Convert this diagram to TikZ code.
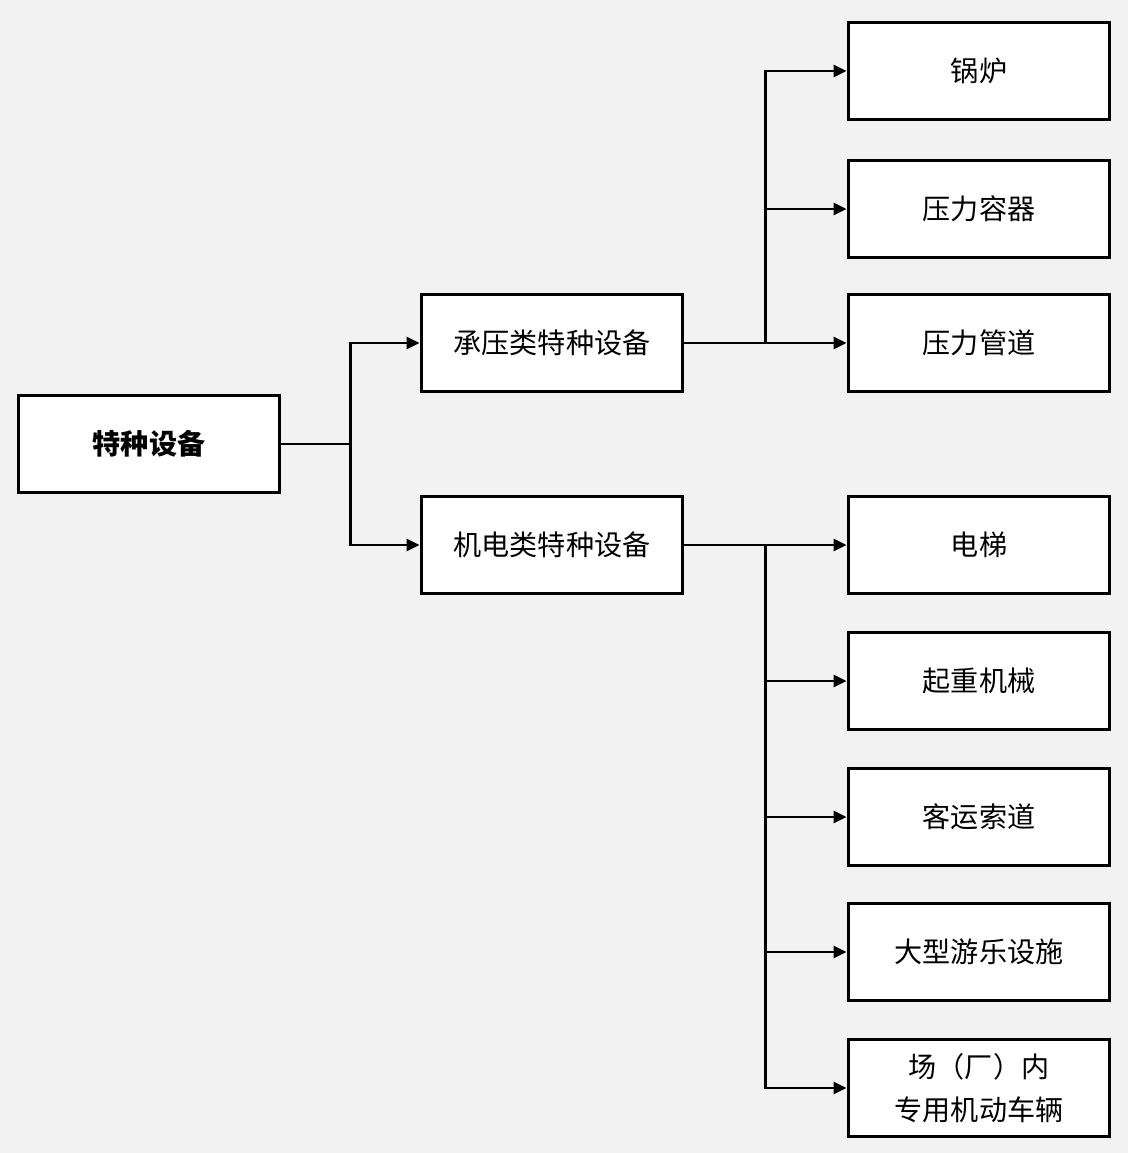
\documentclass[tikz,border=0pt]{standalone}
\usepackage{fontspec}
\setmainfont{Noto Sans CJK SC}
\usetikzlibrary{arrows.meta}

\tikzset{
  box/.style={draw=black,fill=white,line width=0.06cm,minimum width=5.24cm,
    minimum height=1.94cm,inner sep=0pt,align=center,font=\fontsize{16pt}{24.5pt}\selectfont},
  link/.style={line width=0.05cm,-{Triangle[length=0.26cm,width=0.24cm]}}
}

\begin{document}
\begin{tikzpicture}[x=0.02cm,y=-0.02cm]
          \fill[fill={rgb,255:red,242;green,242;blue,242}] (0,0) rectangle (1128,1153);
          \useasboundingbox (0,0) rectangle (1128,1153);
          % left and middle column
          \node[box,font=\fontsize{16pt}{24.5pt}\selectfont\bfseries] (root) at (149,444) {特种设备};
          \node[box] (cy) at (552,343) {承压类特种设备};
          \node[box] (jd) at (552,545) {机电类特种设备};
          % right column
          \node[box] (gl) at (979,71) {锅炉};
          \node[box] (rq) at (979,209) {压力容器};
          \node[box] (gd) at (979,343) {压力管道};
          \node[box] (dt) at (979,545) {电梯};
          \node[box] (qz) at (979,681) {起重机械};
          \node[box] (sd) at (979,817) {客运索道};
          \node[box] (yl) at (979,952) {大型游乐设施};
          \node[box] (cl) at (979,1088) {场（厂）内\\专用机动车辆};
          % connectors
          \foreach \n in {cy,jd}
            \draw[link] (root.east) -- ++(69,0) |- (\n.west);
          \foreach \n in {gl,rq,gd}
            \draw[link] (cy.east) -- ++(81,0) |- (\n.west);
          \foreach \n in {dt,qz,sd,yl,cl}
            \draw[link] (jd.east) -- ++(81,0) |- (\n.west);
        \end{tikzpicture}
\end{document}
